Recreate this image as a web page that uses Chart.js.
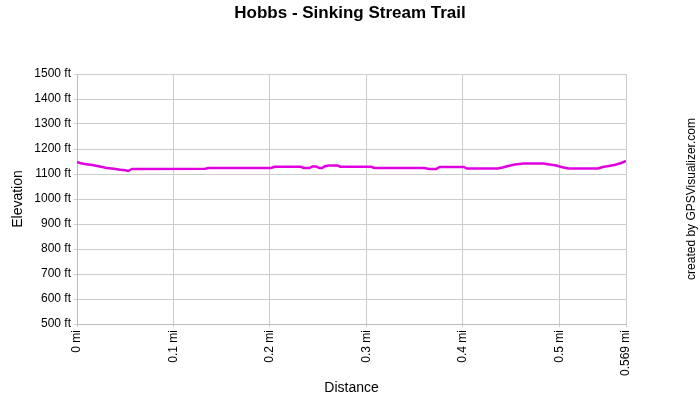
<!DOCTYPE html>
<html>
<head>
<meta charset="utf-8">
<script src="https://cdn.jsdelivr.net/npm/chart.js@4/dist/chart.umd.min.js"></script>
<style>
  body { margin: 0; background: #fff; }
  #wrap { width: 700px; height: 400px; }
</style>
</head>
<body>
<div id="wrap"><canvas id="elev" width="700" height="400"></canvas></div>
<script>
// distance along the trail (mi) and elevation (ft)
const distance = [0, 0.003, 0.008, 0.016, 0.021, 0.026, 0.031, 0.038, 0.045, 0.050, 0.053, 0.057,
  0.133, 0.136, 0.201, 0.205, 0.232, 0.235, 0.241, 0.244, 0.248, 0.251, 0.254, 0.257, 0.261,
  0.270, 0.273, 0.305, 0.308, 0.360, 0.365, 0.372, 0.376, 0.401, 0.404, 0.436, 0.441, 0.447,
  0.454, 0.463, 0.483, 0.490, 0.497, 0.502, 0.509, 0.540, 0.545, 0.551, 0.557, 0.564, 0.569];
const elevation = [1148, 1144, 1140, 1136, 1132, 1128, 1124, 1121, 1117, 1115, 1112, 1120,
  1121, 1124, 1124, 1129, 1129, 1124, 1124, 1130, 1130, 1124, 1124, 1131, 1134,
  1134, 1129, 1129, 1124, 1124, 1120, 1120, 1128, 1128, 1122, 1122, 1126, 1132,
  1138, 1142, 1142, 1138, 1134, 1128, 1122, 1122, 1128, 1132, 1136, 1144, 1152];
const xTicks = [0, 0.1, 0.2, 0.3, 0.4, 0.5, 0.569];

const font = "Arial, 'Liberation Sans', sans-serif";

const credit = {
  id: "credit",
  afterDraw(chart) {
    const c = chart.ctx;
    c.save();
    c.translate(692, 199);
    c.rotate(-Math.PI / 2);
    c.font = "12px " + font;
    c.fillStyle = "#000";
    c.textAlign = "center";
    c.textBaseline = "middle";
    c.fillText("created by GPSVisualizer.com", 0, 0);
    c.restore();
  },
};

new Chart(document.getElementById("elev"), {
  type: "line",
  data: {
    datasets: [
      {
        data: distance.map((d, i) => ({ x: d, y: elevation[i] })),
        borderColor: "#e000e0",
        borderWidth: 2.5,
        pointRadius: 0,
        tension: 0,
        fill: false,
      },
    ],
  },
  options: {
    responsive: false,
    animation: false,
    layout: { padding: 0 },
    plugins: {
      legend: { display: false },
      tooltip: { enabled: false },
      title: {
        display: true,
        text: "Hobbs - Sinking Stream Trail",
        color: "#000",
        font: { family: font, size: 17, weight: "bold" },
        padding: { top: 3, bottom: 50.6 },
      },
    },
    scales: {
      x: {
        type: "linear",
        min: 0,
        max: 0.569,
        afterBuildTicks(scale) {
          scale.ticks = xTicks.map((v) => ({ value: v }));
        },
        afterFit(scale) {
          scale.height = 76;
        },
        ticks: {
          minRotation: 90,
          maxRotation: 90,
          color: "#000",
          padding: 3,
          font: { family: font, size: 12 },
          callback: (v) => v + " mi",
        },
        grid: { color: "#cccccc", tickLength: 3 },
        border: { color: "#bbbbbb" },
        title: {
          display: true,
          text: "Distance",
          color: "#000",
          font: { family: font, size: 14 },
          padding: { top: 0, bottom: 3 },
        },
      },
      y: {
        min: 500,
        max: 1500,
        afterFit(scale) {
          scale.width = 77;
        },
        ticks: {
          stepSize: 100,
          color: "#000",
          padding: 3,
          font: { family: font, size: 12 },
          callback: (v) => v + " ft",
        },
        grid: { color: "#cccccc", tickLength: 3 },
        border: { color: "#bbbbbb" },
        title: {
          display: true,
          text: "Elevation",
          color: "#000",
          font: { family: font, size: 14 },
          padding: { top: 10, bottom: 0 },
        },
      },
      // empty right-hand axis that only reserves room for the credit text
      side: {
        position: "right",
        min: 500,
        max: 1500,
        afterFit(scale) {
          scale.width = 74;
        },
        ticks: { display: false },
        grid: { display: false },
        border: { display: false },
      },
    },
  },
  plugins: [credit],
});
</script>
</body>
</html>
